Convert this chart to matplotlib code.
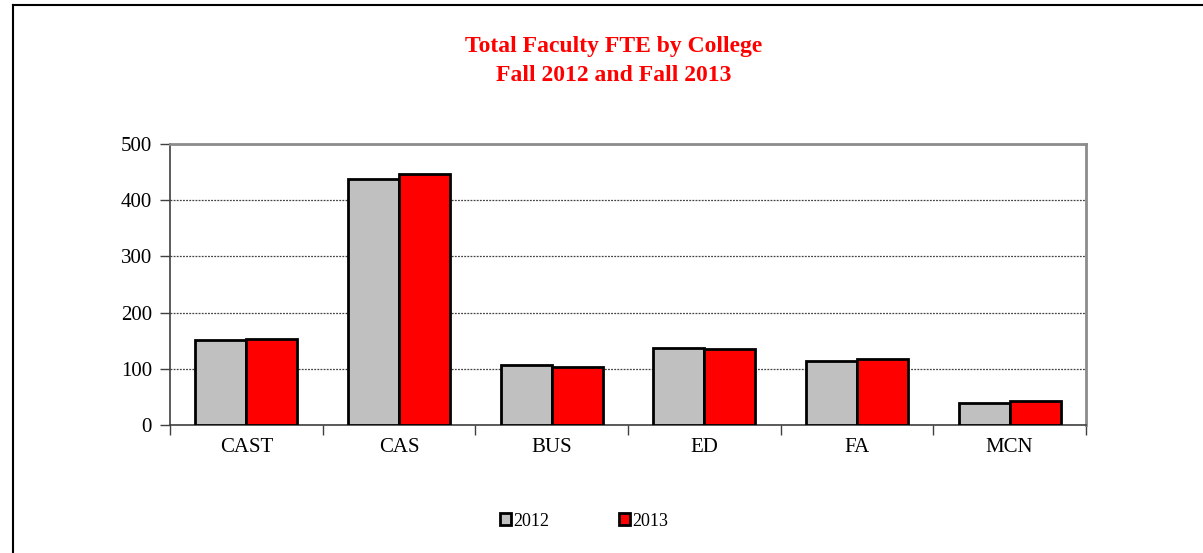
import numpy as np
import matplotlib.pyplot as plt
from matplotlib.lines import Line2D

# Datos
colleges = ['CAST', 'CAS', 'BUS', 'ED', 'FA', 'MCN']
fte_2012 = [151, 437, 106, 137, 113, 40]
fte_2013 = [153, 446, 104, 136, 118, 43]
years = ['2012', '2013']

plt.rcParams['font.family'] = ['Liberation Serif', 'DejaVu Serif']

W, H = 1203, 553
fig = plt.figure(figsize=(W / 100, H / 100), dpi=100)

# Marco exterior
fig.add_artist(Line2D([13 / W, 1], [1 - 5 / H, 1 - 5 / H], color='black', lw=1.5))
fig.add_artist(Line2D([13 / W, 13 / W], [0, 1 - 5 / H], color='black', lw=1.5))

ax = fig.add_axes([170 / W, 1 - 425 / H, (1086 - 170) / W, (425 - 144) / H])

x = np.arange(len(colleges))
w = 1 / 3
ax.bar(x - w / 2, fte_2012, w, color='#c0c0c0', edgecolor='black', lw=2, label=years[0], zorder=3)
ax.bar(x + w / 2, fte_2013, w, color='#ff0000', edgecolor='black', lw=2, label=years[1], zorder=3)

ax.set_xlim(-0.5, len(colleges) - 0.5)
ax.set_ylim(0, 500)
ax.set_yticks(np.arange(0, 501, 100))
ax.set_xticks(x)
ax.set_xticklabels(colleges)
ax.set_xticks(np.arange(-0.5, len(colleges)), minor=True)
ax.tick_params(axis='x', which='major', length=0, pad=9, labelsize=15)
ax.tick_params(axis='x', which='minor', length=7, color='#404040', width=1)
ax.tick_params(axis='y', length=7, color='#404040', width=1, labelsize=15, pad=6)

ax.yaxis.grid(True, linestyle=(0, (1.5, 1)), color='#444444', lw=0.9, zorder=0)
for s in ['top', 'right']:
    ax.spines[s].set_color('#8c8c8c')
    ax.spines[s].set_linewidth(2)
for s in ['left', 'bottom']:
    ax.spines[s].set_color('#404040')
    ax.spines[s].set_linewidth(1.2)

fig.text(614 / W, 1 - 61 / H, 'Total Faculty FTE by College\nFall 2012 and Fall 2013',
         ha='center', va='center', color='#ff0000', fontsize=17, fontweight='bold',
         linespacing=1.45)

leg = fig.legend(loc='center', bbox_to_anchor=(584 / W, 1 - 521 / H), ncol=2, frameon=False,
                 fontsize=13, handlelength=0.6, handleheight=0.6, handletextpad=0.1,
                 columnspacing=3.9)

fig.savefig('out.png', dpi=100)
